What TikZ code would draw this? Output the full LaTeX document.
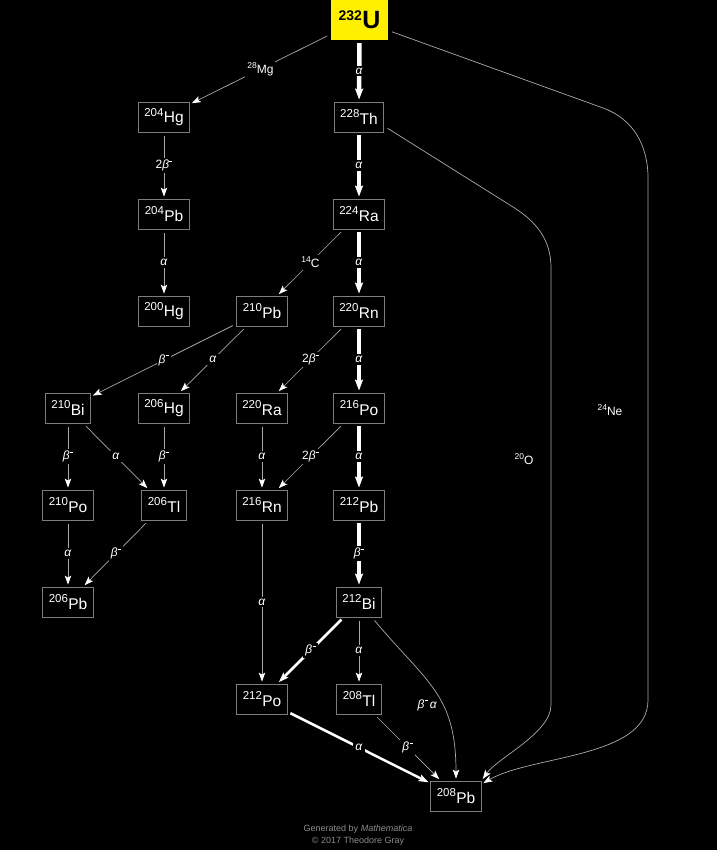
\documentclass[tikz,border=0pt]{standalone}
\usepackage{fontspec}
\setmainfont{Liberation Sans}
\usetikzlibrary{arrows.meta}
\definecolor{edgegray}{RGB}{170,170,170}
\definecolor{boxgray}{RGB}{125,125,125}
\definecolor{footgray}{RGB}{140,140,140}
\definecolor{ugold}{RGB}{255,240,0}
\newcommand{\nuc}[2]{\raisebox{6.5pt}{\fontsize{11.5}{11.5}\selectfont #1}\kern0.3pt{\fontsize{15.5}{15.5}\selectfont #2}}
\newcommand{\lnuc}[2]{\raisebox{5pt}{\fontsize{8.5}{8.5}\selectfont #1}{#2}}
\newcommand{\alp}{\textit{α}}
\newcommand{\bmin}{\textit{β}\kern0.3pt\rule[7.5pt]{3pt}{0.6pt}}

\begin{document}
\begin{tikzpicture}[x=1pt,y=1pt,
  >={Stealth[length=9pt,width=6.5pt,inset=2pt,color=white]},
  iso/.style={draw=boxgray, line width=0.8pt, fill=black, text=white, minimum height=30pt, inner xsep=6pt, inner ysep=0pt},
  uiso/.style={fill=ugold, text=black, minimum height=40pt, minimum width=57pt, inner sep=0pt},
  lbl/.style={fill=black, text=white, inner sep=2pt, font=\fontsize{12}{12}\selectfont},
  foot/.style={text=footgray, inner sep=0pt, font=\fontsize{9}{9}\selectfont},
  side/.style={->, draw=edgegray, line width=0.7pt, shorten <=4pt, shorten >=2pt},
  main/.style={-{Stealth[length=11pt,width=8pt,inset=2pt]}, draw=white, line width=4.5pt, shorten <=3pt, shorten >=2pt},
  branch/.style={-{Stealth[length=10pt,width=7pt,inset=2pt]}, draw=white, line width=2.5pt, shorten <=3pt, shorten >=2pt}]
  \path[fill=black, use as bounding box] (0,0) rectangle (717,-850);
  \draw (359.5, -20.0)node[uiso](u232){\bfseries\raisebox{8pt}{\fontsize{14}{14}\selectfont 232}\kern0.5pt{\fontsize{25}{25}\selectfont U}};
  \draw (359.0, -117.0)node[iso](th228){\nuc{228}{Th}};
  \draw (164.0, -117.0)node[iso](hg204){\nuc{204}{Hg}};
  \draw (164.0, -214.0)node[iso](pb204){\nuc{204}{Pb}};
  \draw (164.0, -311.0)node[iso](hg200){\nuc{200}{Hg}};
  \draw (359.0, -214.0)node[iso](ra224){\nuc{224}{Ra}};
  \draw (262.0, -311.0)node[iso](pb210){\nuc{210}{Pb}};
  \draw (359.0, -311.0)node[iso](rn220){\nuc{220}{Rn}};
  \draw (68.0, -408.0)node[iso](bi210){\nuc{210}{Bi}};
  \draw (164.0, -408.0)node[iso](hg206){\nuc{206}{Hg}};
  \draw (262.0, -408.0)node[iso](ra220){\nuc{220}{Ra}};
  \draw (359.0, -408.0)node[iso](po216){\nuc{216}{Po}};
  \draw (68.0, -505.0)node[iso](po210){\nuc{210}{Po}};
  \draw (164.0, -505.0)node[iso](tl206){\nuc{206}{Tl}};
  \draw (262.0, -505.0)node[iso](rn216){\nuc{216}{Rn}};
  \draw (359.0, -505.0)node[iso](pb212){\nuc{212}{Pb}};
  \draw (68.0, -602.0)node[iso](pb206){\nuc{206}{Pb}};
  \draw (359.0, -602.0)node[iso](bi212){\nuc{212}{Bi}};
  \draw (262.0, -699.0)node[iso](po212){\nuc{212}{Po}};
  \draw (359.0, -699.0)node[iso](tl208){\nuc{208}{Tl}};
  \draw (456.0, -796.0)node[iso](pb208){\nuc{208}{Pb}};
  \coordinate (ne0) at (603, -108);
  \coordinate (ne1) at (648, -178);
  \coordinate (ne2) at (648, -700);
  \coordinate (ox0) at (513, -207);
  \coordinate (ox1) at (551, -268);
  \coordinate (ox2) at (551, -705);
  \path[main] (u232) edge node[lbl]{\alp}(th228);
  \path[side] (u232) edge node[lbl]{\lnuc{28}{Mg}}(hg204);
  \path[main] (th228) edge node[lbl]{\alp}(ra224);
  \path[side] (hg204) edge node[lbl]{2\bmin}(pb204);
  \path[side] (pb204) edge node[lbl]{\alp}(hg200);
  \path[side] (ra224) edge node[lbl]{\lnuc{14}{C}}(pb210);
  \path[main] (ra224) edge node[lbl]{\alp}(rn220);
  \path[side] (pb210) edge node[lbl]{\bmin}(bi210);
  \path[side] (pb210) edge node[lbl]{\alp}(hg206);
  \path[side] (rn220) edge node[lbl]{2\bmin}(ra220);
  \path[main] (rn220) edge node[lbl]{\alp}(po216);
  \path[side] (bi210) edge node[lbl]{\bmin}(po210);
  \path[side] (bi210) edge node[lbl]{\alp}(tl206);
  \path[side] (hg206) edge node[lbl]{\bmin}(tl206);
  \path[side] (ra220) edge node[lbl]{\alp}(rn216);
  \path[side] (po216) edge node[lbl]{2\bmin}(rn216);
  \path[main] (po216) edge node[lbl]{\alp}(pb212);
  \path[side] (po210) edge node[lbl]{\alp}(pb206);
  \path[side] (tl206) edge node[lbl]{\bmin}(pb206);
  \path[side] (rn216) edge node[lbl]{\alp}(po212);
  \path[main] (pb212) edge node[lbl]{\bmin}(bi212);
  \path[branch] (bi212) edge node[lbl]{\bmin}(po212);
  \path[side] (bi212) edge node[lbl]{\alp}(tl208);
  \path[side] (bi212) edge[out=-50, in=90, looseness=1.2] node[lbl, pos=0.6, left=3pt]{\bmin\,\alp}(pb208);
  \path[branch] (po212) edge node[lbl]{\alp}(pb208);
  \path[side] (tl208) edge node[lbl]{\bmin}(pb208);
  \draw[side] (th228.-20) -- (ox0) to[out=-32, in=90] (ox1) -- (ox2) to[out=-90, in=55, looseness=0.7] (pb208.north east);
  \draw[side] (u232.-20) -- (ne0) to[out=-20, in=90] (ne1) -- (ne2) to[out=-90, in=30, looseness=0.8] (pb208.25);
  \draw (524.0, -459.0)node[lbl, fill=none](oxlbl){\lnuc{20}{O}};
  \draw (610.0, -410.0)node[lbl, fill=none](nelbl){\lnuc{24}{Ne}};
  \draw (358.0, -829.0)node[foot](gen){Generated by \textit{Mathematica}};
  \draw (358.0, -841.0)node[foot](copy){© 2017 Theodore Gray};
\end{tikzpicture}
\end{document}
